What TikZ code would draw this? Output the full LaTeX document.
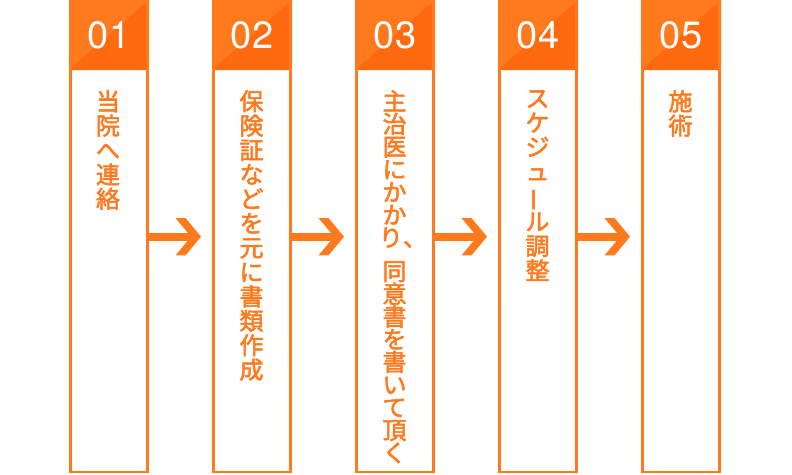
\documentclass[tikz,border=0pt]{standalone}
\usepackage{fontspec}
\setmainfont{TeX Gyre Heros}
\newfontfamily\jpfont{Noto Sans CJK JP}[FakeBold=2.2]
\usetikzlibrary{positioning,calc}
\definecolor{stepor}{RGB}{255,122,28}
\definecolor{stepdk}{RGB}{255,106,16}
\definecolor{steptx}{RGB}{255,122,30}

\begin{document}
\begin{tikzpicture}[
  x=1pt, y=-1pt,
  col/.style={draw=stepor, line width=2.7pt, minimum width=77.3pt,
              minimum height=470.6pt, inner sep=0pt},
  head/.style={fill=stepor, minimum width=80pt, minimum height=70pt, inner sep=0pt,
               text=white, font=\fontsize{38}{38}\selectfont,
               path picture={\fill[stepdk] (path picture bounding box.south west)
                 -- (path picture bounding box.north east)
                 -- (path picture bounding box.south east) -- cycle;}},
  lbl/.style={anchor=north, align=center, inner sep=0pt, text=steptx,
              font=\jpfont\fontsize{24}{24.4}\selectfont},
  tight/.style={lbl, font=\jpfont\fontsize{24}{22.7}\selectfont},
  fl/.style={draw=stepor, line width=8pt},
  hd/.style={fill=stepor},
]
\useasboundingbox (0,0) rectangle (792,474);

% ---------- headers and columns ----------
\foreach \i in {1,...,5} \node[head] (h\i) at ({109+143*(\i-1)}, 35) {0\i};
\foreach \i in {1,...,5} \node[col] (c\i) at ({109+143*(\i-1)}, 236.7) {};

% ---------- arrows ----------
\foreach \i in {1,...,4} {
  \coordinate (tip\i) at ($(c\i.east)+(52,0)$);
  \draw[fl] (c\i.east) -- ($(tip\i)+(-6,0)$);
  \fill[hd] (tip\i) -- ++(-15.5,-18.7) -- ++(-10,0) -- ++(15.5,18.7)
            -- ++(-15.5,18.7) -- ++(10,0) -- cycle;
}

% ---------- step texts ----------
\node[lbl] (t1) at (108,90) {当\\院\\へ\\連\\絡};
\node[lbl] (t2) at (251.5,90) {保\\険\\証\\な\\ど\\を\\元\\に\\書\\類\\作\\成};
\node[tight] (t3) at (394.5,90) {主\\治\\医\\に\\か\\か\\り\makebox[.3em][l]{、}\\[11pt]%
  同\\意\\書\\を\\書\\い\\て\\頂\\く};
\node[lbl] (t4) at (537.5,90) {ス\\ケ\\ジ\\ュ\\\rotatebox[origin=c]{90}{ー}\\ル\\調\\整};
\node[lbl] (t5) at (680.5,90) {施\\術};

\end{tikzpicture}
\end{document}
